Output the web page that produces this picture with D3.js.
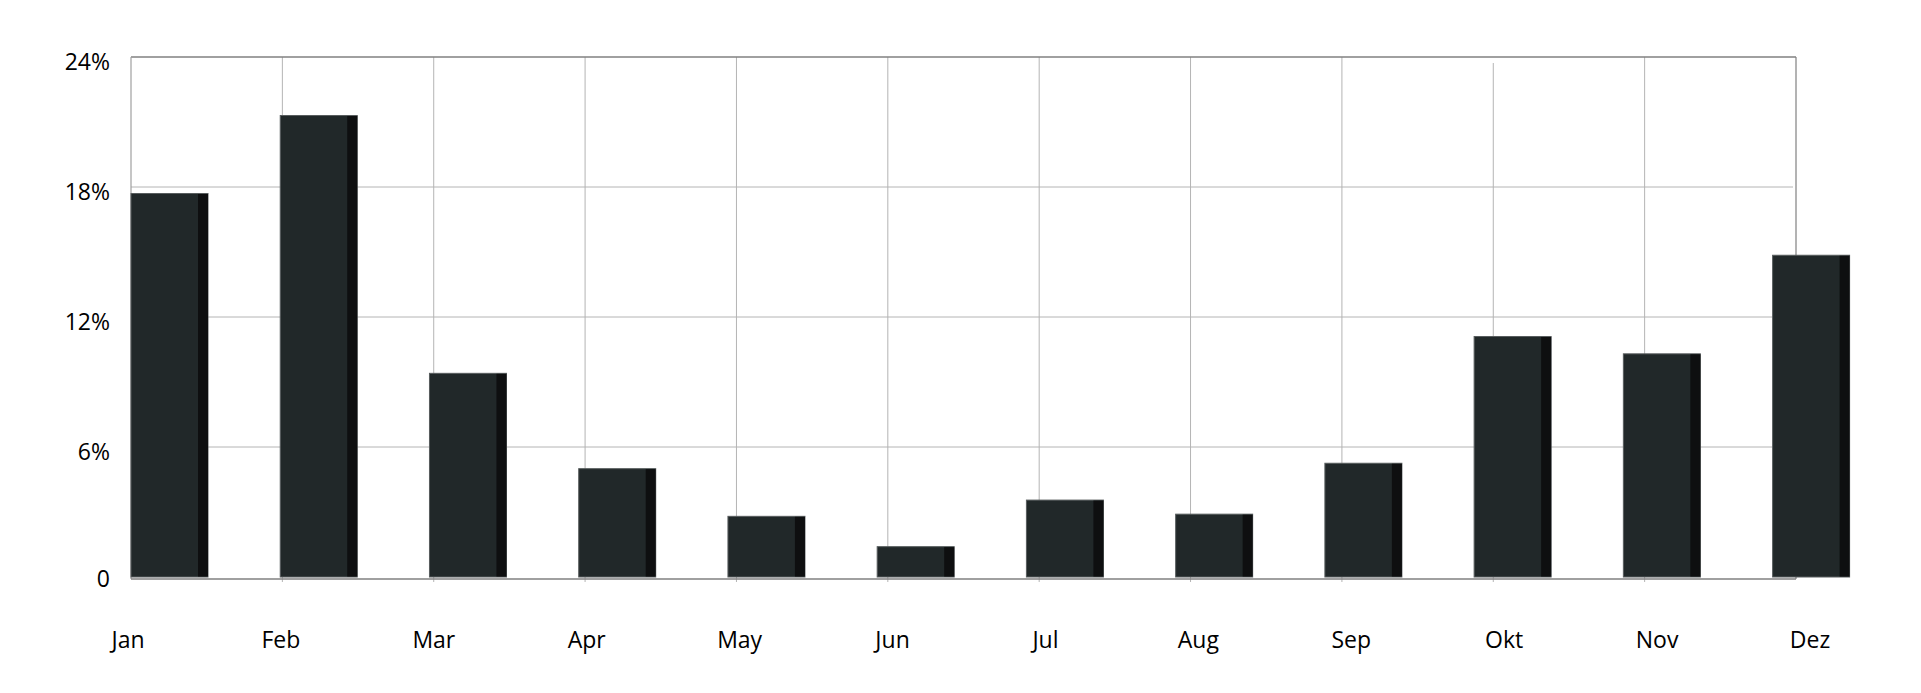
<!DOCTYPE html>
<html>
<head>
<meta charset="utf-8">
<script src="https://cdnjs.cloudflare.com/ajax/libs/d3/7.8.5/d3.min.js"></script>
<style>
  body { margin: 0; background: #fff; }
  text { font-family: 'Open Sans', 'Noto Sans', sans-serif; fill: #000; }
</style>
</head>
<body>
<div id="chart"></div>
<script>
//Data
const months = ['Jan', 'Feb', 'Mar', 'Apr', 'May', 'Jun', 'Jul', 'Aug', 'Sep', 'Okt', 'Nov', 'Dez']
const share = [17.7, 21.3, 9.4, 5.0, 2.8, 1.4, 3.55, 2.9, 5.25, 11.1, 10.3, 14.85]
const yTicks = [0, 6, 12, 18, 24]
const yTickLabels = ['0', '6%', '12%', '18%', '24%']

//Page constants
const width = 1921
const height = 693
const plotLeft = 131
const plotRight = 1796
const plotTop = 57
const plotBottom = 577

const svg = d3.select('#chart')
    .append('svg')
    .attr('width', width)
    .attr('height', height)

//Scales
const y = d3.scaleLinear()
    .domain([0, 24])
    .range([plotBottom, plotTop])

//gridlines, bars and labels sit on slightly different steps
const xGrid = d3.scalePoint().domain(months).range([plotLeft, plotRight])
const xBar = d3.scalePoint().domain(months).range([plotLeft, 1772.6])
const xLabel = d3.scalePoint().domain(months).range([128, 1810])

const barFront = 67
const barSide = 10

//Grid
const grid = svg.append('g').attr('class', 'grid')
grid.selectAll('.hgrid')
    .data(yTicks.filter(d => d > 0 && d < 24))
    .enter()
    .append('line')
    .attr('x1', plotLeft)
    .attr('x2', plotRight - 3)
    .attr('y1', d => y(d))
    .attr('y2', d => y(d))
    .attr('stroke', '#b4b4b4')
    .attr('stroke-width', 1)

grid.selectAll('.vgrid')
    .data(months.slice(1, -1))
    .enter()
    .append('line')
    .attr('x1', d => xGrid(d))
    .attr('x2', d => xGrid(d))
    .attr('y1', d => d === 'Okt' ? plotTop + 6 : plotTop)
    .attr('y2', plotBottom + 5)
    .attr('stroke', '#b4b4b4')
    .attr('stroke-width', 1)

//Frame
const frame = svg.append('g').attr('class', 'frame')
frame.append('line')
    .attr('x1', plotLeft).attr('x2', plotRight)
    .attr('y1', plotTop).attr('y2', plotTop)
    .attr('stroke', '#808080').attr('stroke-width', 1.3)
frame.append('line')
    .attr('x1', plotLeft).attr('x2', plotLeft)
    .attr('y1', plotTop).attr('y2', plotBottom + 2)
    .attr('stroke', '#a0a0a0').attr('stroke-width', 1.2)
frame.append('line')
    .attr('x1', plotRight).attr('x2', plotRight)
    .attr('y1', plotTop).attr('y2', plotBottom + 2)
    .attr('stroke', '#808080').attr('stroke-width', 1.2)

//Bars
const bars = svg.append('g')
    .attr('class', 'bars')
    .selectAll('g')
    .data(months.map((m, i) => ({ month: m, value: share[i] })))
    .enter()
    .append('g')
    .attr('transform', d => `translate(${xBar(d.month)}, 0)`)

bars.append('rect')
    .attr('x', 0)
    .attr('y', d => y(d.value))
    .attr('width', barFront + barSide)
    .attr('height', d => plotBottom - y(d.value))
    .attr('fill', '#212829')
    .attr('stroke', '#585d5e')
    .attr('stroke-width', 1)

bars.append('rect')
    .attr('x', barFront)
    .attr('y', d => y(d.value) + 0.5)
    .attr('width', barSide)
    .attr('height', d => plotBottom - y(d.value) - 1)
    .attr('fill', '#0e0f10')

//Zero line
svg.append('line')
    .attr('x1', plotLeft)
    .attr('x2', plotRight)
    .attr('y1', plotBottom + 2)
    .attr('y2', plotBottom + 2)
    .attr('stroke', '#808080')
    .attr('stroke-width', 1.5)

//Y labels
svg.append('g')
    .attr('class', 'ylabels')
    .selectAll('text')
    .data(yTicks)
    .enter()
    .append('text')
    .attr('x', 110)
    .attr('y', d => y(d) + (d === 0 ? 10 : 13))
    .attr('text-anchor', 'end')
    .style('font-size', '23px')
    .text((d, i) => yTickLabels[i])

//Month labels
svg.append('g')
    .attr('class', 'xlabels')
    .selectAll('text')
    .data(months)
    .enter()
    .append('text')
    .attr('x', d => xLabel(d))
    .attr('y', 648)
    .attr('text-anchor', 'middle')
    .style('font-size', '23px')
    .text(d => d)
</script>
</body>
</html>
